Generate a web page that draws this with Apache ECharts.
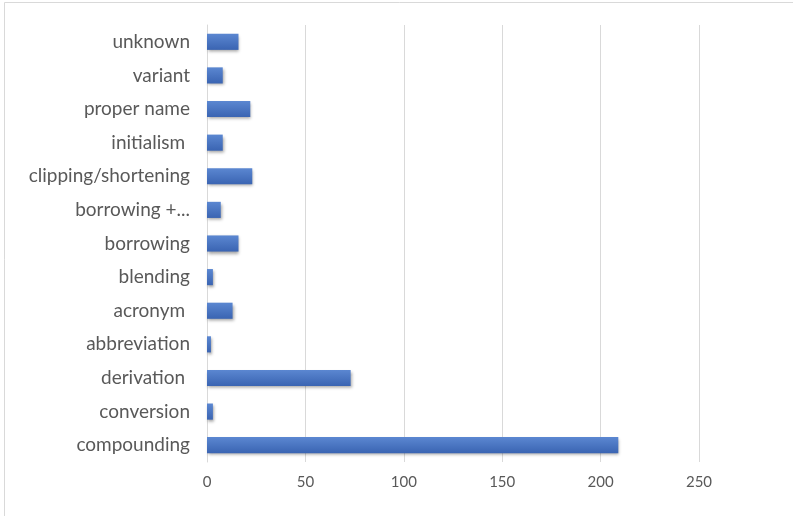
<!DOCTYPE html>
<html>
<head>
<meta charset="utf-8">
<script src="https://cdn.jsdelivr.net/npm/echarts@6/dist/echarts.min.js"></script>
<style>
html,body{margin:0;padding:0;background:#fff;}
#c{width:793px;height:516px;}
</style>
</head>
<body>
<div id="c"></div>
<script>
const categories = ["compounding","conversion","derivation ","abbreviation","acronym ","blending","borrowing","borrowing +...","clipping/shortening","initialism ","proper name","variant","unknown"];
const values = [209,3,73,2,13,3,16,7,23,8,22,8,16];
const xTicks = [0,50,100,150,200,250];

const chart = echarts.init(document.getElementById('c'), null, {renderer:'canvas'});
chart.setOption({
  animation:false,
  backgroundColor:'#fff',
  graphic:[{type:'rect',shape:{x:4.5,y:2.5,width:820,height:540},style:{fill:'none',stroke:'#d9d9d9',lineWidth:1},silent:true,z:-10}],
  grid:{left:207,right:94,top:25,bottom:54,containLabel:false},
  xAxis:{
    type:'value',min:xTicks[0],max:xTicks[xTicks.length-1],interval:50,
    axisLine:{show:false},axisTick:{show:false},
    splitLine:{show:true,lineStyle:{color:'#d9d9d9',width:1}},
    axisLabel:{color:'#595959',fontSize:15,fontFamily:'Lato',margin:13}
  },
  yAxis:{
    type:'category',data:categories,
    axisLine:{show:true,lineStyle:{color:'#d9d9d9'}},axisTick:{show:false},
    axisLabel:{color:'#595959',fontSize:19,fontFamily:'Lato',margin:17}
  },
  series:[{
    type:'bar',data:values,barWidth:'48%',
    itemStyle:{
      color:new echarts.graphic.LinearGradient(0,0,0,1,[{offset:0,color:'#5b87d1'},{offset:1,color:'#3a64b2'}]),
      shadowColor:'rgba(0,0,0,0.35)',shadowBlur:3,shadowOffsetX:1,shadowOffsetY:2
    }
  }]
});
</script>
</body>
</html>
